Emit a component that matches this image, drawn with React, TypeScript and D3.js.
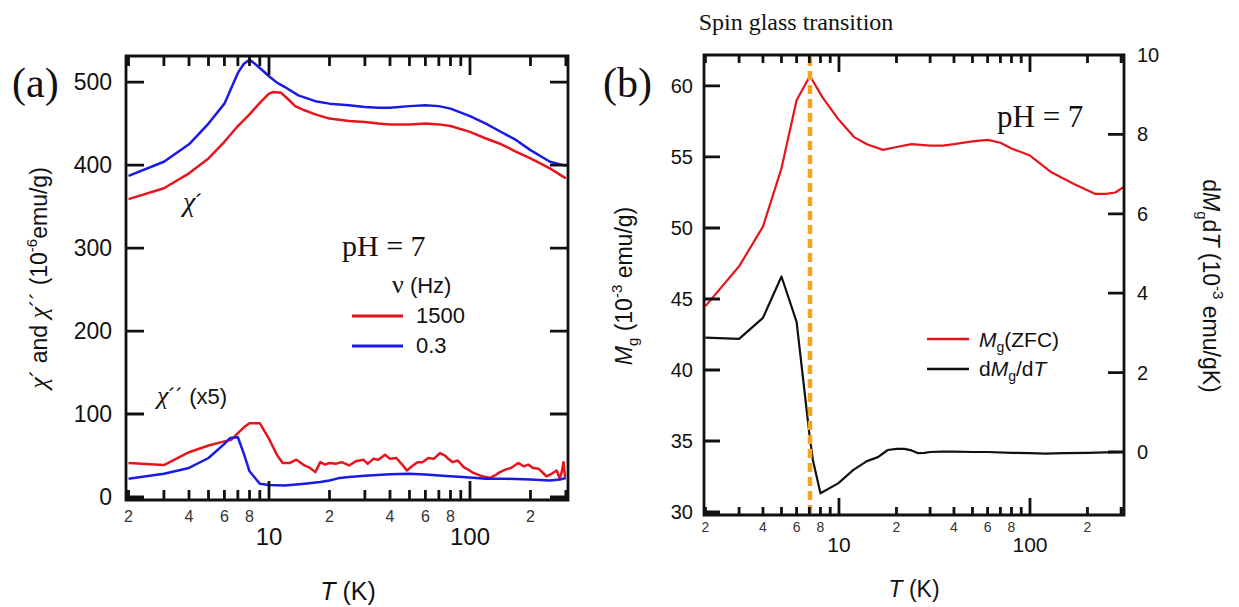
import React from 'react';
import * as d3 from 'd3';

// ---------- shared temperature axis ----------
const MINOR_TICKS = [2, 3, 4, 5, 6, 7, 8, 9, 20, 30, 40, 50, 60, 70, 80, 90, 200, 300];
const MAJOR_TICKS = [10, 100];
const MINOR_LABELS = [2, 4, 6, 8, 20, 40, 60, 80, 200];
const MAJOR_LABELS = ['10', '100'];

// ---------- panel (a): AC susceptibility ----------
const A_Y_TICKS = [0, 100, 200, 300, 400, 500];

// chi' at 1500 Hz
const T_CHI1_1500 = [2, 3, 4, 5, 6, 7, 8, 9, 10, 10.5, 11.5, 12.5, 13.5, 15, 17, 20, 25, 30, 35, 40, 50, 60, 70, 80, 100, 120, 140, 170, 200, 250, 300];
const CHI1_1500 = [359, 372, 390, 408, 428, 447, 461, 475, 486, 488, 487, 479, 471, 466, 461, 456, 453, 452, 450, 449, 449, 450, 449, 447, 440, 432, 426, 416, 408, 396, 384];

// chi' at 0.3 Hz
const T_CHI1_03 = [2, 3, 4, 5, 6, 7, 7.5, 8, 8.5, 9, 10, 11, 12, 14, 17, 20, 25, 30, 35, 40, 50, 60, 70, 80, 100, 120, 140, 170, 200, 250, 300];
const CHI1_03 = [387, 404, 425, 450, 474, 511, 522, 527, 522, 517, 507, 499, 494, 484, 477, 474, 472, 470, 469, 469, 471, 472, 471, 468, 459, 450, 441, 430, 418, 404, 399];

// chi'' (x5) at 1500 Hz
const T_CHI2_1500 = [2, 3, 4, 5, 6, 6.5, 7, 7.5, 8, 9, 10, 11, 11.7, 12.7, 13.7, 15, 16, 17, 18, 19, 20, 21.5, 23, 25, 27, 29.5, 31, 33, 35, 37.8, 40, 43, 46, 48.5, 52, 55, 58, 62, 66, 71, 75, 78, 82, 87, 93, 98, 104, 112, 120, 126, 133, 141, 150, 160, 174, 185, 195, 206, 220, 240, 255, 270, 280, 286, 292, 297];
const CHI2_1500 = [41, 38.5, 54, 62, 67, 69, 77, 84, 89, 89, 70, 50, 41, 41, 45, 38, 35, 30, 42, 39, 41, 40, 42, 38, 43, 45, 40, 46, 45, 51, 46, 47, 39, 32, 38, 42, 42, 47, 46, 53, 50, 46, 42, 44, 36, 33, 29, 26, 24, 23, 26, 30, 33, 35, 41, 37, 39, 35, 34, 25, 28, 32, 22, 30, 42, 24];

// chi'' (x5) at 0.3 Hz
const T_CHI2_03 = [2, 3, 4, 5, 6, 6.4, 7, 7.5, 8, 9, 10, 12, 15, 18, 20, 22, 25, 30, 40, 50, 60, 70, 80, 100, 120, 150, 200, 250, 280, 300];
const CHI2_03 = [22, 28, 35, 47, 64, 71, 72, 52, 31, 16, 14.5, 14, 16, 18, 20, 22.5, 24, 25.5, 27.5, 28, 27, 26, 25, 23.5, 22, 22, 21, 20, 21, 23];

// ---------- panel (b): ZFC magnetization and its derivative ----------
const B_LEFT_TICKS = [30, 35, 40, 45, 50, 55, 60];
const B_RIGHT_TICKS = [0, 2, 4, 6, 8, 10];
const TRANSITION_T = 7.05;

const T_MG = [2, 3, 4, 5, 6, 7.05, 8.2, 10, 12, 14, 17, 20, 24, 30, 35, 40, 50, 60, 70, 80, 100, 130, 170, 220, 250, 280, 310];
const MG = [44.5, 47.3, 50.1, 54.2, 59.0, 60.7, 59.2, 57.6, 56.4, 55.9, 55.5, 55.7, 55.9, 55.8, 55.8, 55.9, 56.1, 56.2, 56.0, 55.6, 55.1, 53.9, 53.1, 52.4, 52.4, 52.5, 52.9];

const T_DMG = [2, 3, 4, 5, 6, 7, 7.3, 8, 9.9, 11.9, 14, 16, 18, 20, 22, 24, 26, 28, 30, 35, 40, 50, 60, 80, 100, 120, 150, 200, 250, 310];
const DMG = [2.88, 2.85, 3.38, 4.42, 3.28, 0.45, -0.2, -1.04, -0.79, -0.45, -0.23, -0.13, 0.05, 0.08, 0.08, 0.04, -0.03, -0.02, 0.0, 0.01, 0.01, 0.0, 0.0, -0.02, -0.03, -0.04, -0.03, -0.02, -0.01, 0.0];

const SANS = "'Liberation Sans', Arial, Helvetica, sans-serif";
const SERIF = "'Liberation Serif', 'Times New Roman', serif";
const RED = '#e8141c';
const BLUE = '#1a1ae6';
const INK = '#111';
const ORANGE = '#f5a51c';

type Scale = (v: number) => number;

function pathOf(xs: Scale, ys: Scale, tx: number[], vy: number[]): string {
  const gen = d3.line<[number, number]>().x((d) => xs(d[0])).y((d) => ys(d[1]));
  return gen(d3.zip(tx, vy) as [number, number][]) || '';
}

interface FrameSpec {
  l: number;
  r: number;
  t: number;
  b: number;
  xs: Scale;
  minorLen: number;
  majorLen: number;
  left: { ys: Scale; values: number[]; len: number };
  right: { ys: Scale; values: number[]; len: number };
}

// Box frame plus all inward tick marks, as one path string.
function framePath(f: FrameSpec): string {
  let d = `M${f.l},${f.t}H${f.r}V${f.b}H${f.l}Z`;
  const vt = (t: number, len: number) => {
    const x = f.xs(t).toFixed(2);
    d += `M${x},${f.b}V${f.b - len}M${x},${f.t}V${f.t + len}`;
  };
  MINOR_TICKS.forEach((t) => vt(t, f.minorLen));
  MAJOR_TICKS.forEach((t) => vt(t, f.majorLen));
  f.left.values.forEach((v) => {
    d += `M${f.l},${f.left.ys(v).toFixed(2)}H${f.l + f.left.len}`;
  });
  f.right.values.forEach((v) => {
    d += `M${f.r},${f.right.ys(v).toFixed(2)}H${f.r - f.right.len}`;
  });
  return d;
}

function labelDigit(t: number): string {
  let v = t;
  while (v >= 10) v /= 10;
  return String(Math.round(v));
}

function XLabels({ xs, minorFont, majorFont, minorBase, majorBase }: { xs: Scale; minorFont: number; majorFont: number; minorBase: number; majorBase: number }) {
  return (
    <g>
      {MINOR_LABELS.map((t) => (
        <text key={'ml' + t} x={xs(t)} y={minorBase} textAnchor="middle" fontFamily={SANS} fontSize={minorFont} fill="#333">
          {labelDigit(t)}
        </text>
      ))}
      {MAJOR_TICKS.map((t, i) => (
        <text key={'Ml' + t} x={xs(t)} y={majorBase} textAnchor="middle" fontFamily={SANS} fontSize={majorFont} fill={INK}>
          {MAJOR_LABELS[i]}
        </text>
      ))}
    </g>
  );
}

export default function App() {
  // panel (a) scales
  const xa = d3.scaleLog().domain([1.943, 307.4]).range([126, 568]);
  const ya = d3.scaleLinear().domain([-3.6, 531.4]).range([500, 56]);
  // panel (b) scales
  const xb = d3.scaleLog().domain([1.965, 310.6]).range([704, 1124]);
  const ybL = d3.scaleLinear().domain([29.79, 62.18]).range([515, 55]);
  const ybR = d3.scaleLinear().domain([-1.587, 10]).range([515, 55]);

  const frameA = framePath({
    l: 126, r: 568, t: 56, b: 500, xs: xa, minorLen: 10, majorLen: 19,
    left: { ys: ya, values: A_Y_TICKS, len: 18 },
    right: { ys: ya, values: A_Y_TICKS, len: 18 },
  });
  const frameB = framePath({
    l: 704, r: 1124, t: 55, b: 515, xs: xb, minorLen: 8, majorLen: 17,
    left: { ys: ybL, values: B_LEFT_TICKS, len: 16 },
    right: { ys: ybR, values: B_RIGHT_TICKS, len: 16 },
  });

  return (
    <div style={{ position: 'fixed', left: 0, top: 0 }}>
      <svg width={1239} height={607} viewBox="0 0 1239 607" style={{ display: 'block', background: '#fff' }}>
        <rect x={0} y={0} width={1239} height={607} fill="#fff" />

        {/* ===== panel (a) ===== */}
        <text x={12} y={97} fontFamily={SERIF} fontSize={42} fill={INK}>(a)</text>

        <path d={pathOf(xa, ya, T_CHI1_1500, CHI1_1500)} fill="none" stroke={RED} strokeWidth={2.5} strokeLinejoin="round" />
        <path d={pathOf(xa, ya, T_CHI1_03, CHI1_03)} fill="none" stroke={BLUE} strokeWidth={2.5} strokeLinejoin="round" />
        <path d={pathOf(xa, ya, T_CHI2_1500, CHI2_1500)} fill="none" stroke={RED} strokeWidth={2.5} strokeLinejoin="round" />
        <path d={pathOf(xa, ya, T_CHI2_03, CHI2_03)} fill="none" stroke={BLUE} strokeWidth={2.5} strokeLinejoin="round" />

        <path d={frameA} fill="none" stroke={INK} strokeWidth={2.8} />
        <XLabels xs={xa} minorFont={16} majorFont={24} minorBase={522} majorBase={545} />
        {A_Y_TICKS.map((v) => (
          <text key={'ay' + v} x={112} y={ya(v) + 8} textAnchor="end" fontFamily={SANS} fontSize={23} fill={INK}>{v}</text>
        ))}

        <text x={348} y={600} textAnchor="middle" fontFamily={SANS} fontSize={25} fill={INK}>
          <tspan fontStyle="italic">T</tspan> (K)
        </text>
        <text transform="translate(47,278) rotate(-90)" textAnchor="middle" fontFamily={SANS} fontSize={23} fill={INK}>
          <tspan fontFamily={SERIF} fontStyle="italic" fontSize={26}>χ</tspan>´ and <tspan fontFamily={SERIF} fontStyle="italic" fontSize={26}>χ</tspan>´´ (10<tspan dy={-10} fontSize={15}>-6</tspan><tspan dy={10}>emu/g)</tspan>
        </text>

        <text x={183} y={211} fontFamily={SANS} fontSize={24} fill={INK}>
          <tspan fontFamily={SERIF} fontStyle="italic" fontSize={28}>χ</tspan>´
        </text>
        <text x={157} y={404} fontFamily={SANS} fontSize={22} fill={INK}>
          <tspan fontFamily={SERIF} fontStyle="italic" fontSize={26}>χ</tspan>´´ (x5)
        </text>

        <text x={342} y={256} fontFamily={SERIF} fontSize={30} fill={INK}>pH = 7</text>
        <text x={392} y={293} fontFamily={SANS} fontSize={22} fill={INK}>
          <tspan fontFamily={SERIF} fontSize={26}>ν</tspan> (Hz)
        </text>
        <line x1={352} x2={403} y1={316} y2={316} stroke={RED} strokeWidth={3} />
        <text x={416} y={323} fontFamily={SANS} fontSize={22} fill={INK}>1500</text>
        <line x1={352} x2={403} y1={346} y2={346} stroke={BLUE} strokeWidth={3} />
        <text x={416} y={353} fontFamily={SANS} fontSize={22} fill={INK}>0.3</text>

        {/* ===== panel (b) ===== */}
        <text x={603} y={97} fontFamily={SERIF} fontSize={42} fill={INK}>(b)</text>
        <text x={796} y={30} textAnchor="middle" fontFamily={SERIF} fontSize={24} fill={INK}>Spin glass transition</text>

        <path d={pathOf(xb, ybL, T_MG, MG)} fill="none" stroke={RED} strokeWidth={2.2} strokeLinejoin="round" />
        <path d={pathOf(xb, ybR, T_DMG, DMG)} fill="none" stroke={INK} strokeWidth={2.2} strokeLinejoin="round" />
        <line x1={xb(TRANSITION_T)} x2={xb(TRANSITION_T)} y1={57} y2={513} stroke={ORANGE} strokeWidth={4.5} strokeDasharray="9 5" />

        <path d={frameB} fill="none" stroke={INK} strokeWidth={2.8} />
        <XLabels xs={xb} minorFont={14} majorFont={21} minorBase={532} majorBase={552} />
        {B_LEFT_TICKS.map((v) => (
          <text key={'blt' + v} x={693} y={ybL(v) + 7} textAnchor="end" fontFamily={SANS} fontSize={20} fill={INK}>{v}</text>
        ))}
        {B_RIGHT_TICKS.map((v) => (
          <text key={'brt' + v} x={1137} y={ybR(v) + 7} fontFamily={SANS} fontSize={20} fill={INK}>{v}</text>
        ))}

        <text x={914} y={597} textAnchor="middle" fontFamily={SANS} fontSize={23} fill={INK}>
          <tspan fontStyle="italic">T</tspan> (K)
        </text>
        <text transform="translate(632,286) rotate(-90)" textAnchor="middle" fontFamily={SANS} fontSize={23} fill={INK}>
          <tspan fontStyle="italic">M</tspan><tspan dy={6} fontSize={15}>g</tspan><tspan dy={-6}> (10</tspan><tspan dy={-10} fontSize={15}>-3</tspan><tspan dy={10}> emu/g)</tspan>
        </text>
        <text transform="translate(1203,286) rotate(90)" textAnchor="middle" fontFamily={SANS} fontSize={23} fill={INK}>
          d<tspan fontStyle="italic">M</tspan><tspan dy={6} fontSize={15}>g</tspan><tspan dy={-6}>d</tspan><tspan fontStyle="italic">T</tspan> (10<tspan dy={-10} fontSize={15}>-3</tspan><tspan dy={10}> emu/gK)</tspan>
        </text>

        <text x={997} y={127} fontFamily={SERIF} fontSize={31} fill={INK}>pH = 7</text>
        <line x1={927} x2={969} y1={339} y2={339} stroke={RED} strokeWidth={2.5} />
        <text x={979} y={347} fontFamily={SANS} fontSize={21} fill={INK}>
          <tspan fontStyle="italic">M</tspan><tspan dy={5} fontSize={14}>g</tspan><tspan dy={-5}>(ZFC)</tspan>
        </text>
        <line x1={927} x2={969} y1={369} y2={369} stroke={INK} strokeWidth={2.5} />
        <text x={979} y={376} fontFamily={SANS} fontSize={21} fill={INK}>
          d<tspan fontStyle="italic">M</tspan><tspan dy={5} fontSize={14}>g</tspan><tspan dy={-5}>/d</tspan><tspan fontStyle="italic">T</tspan>
        </text>
      </svg>
    </div>
  );
}
